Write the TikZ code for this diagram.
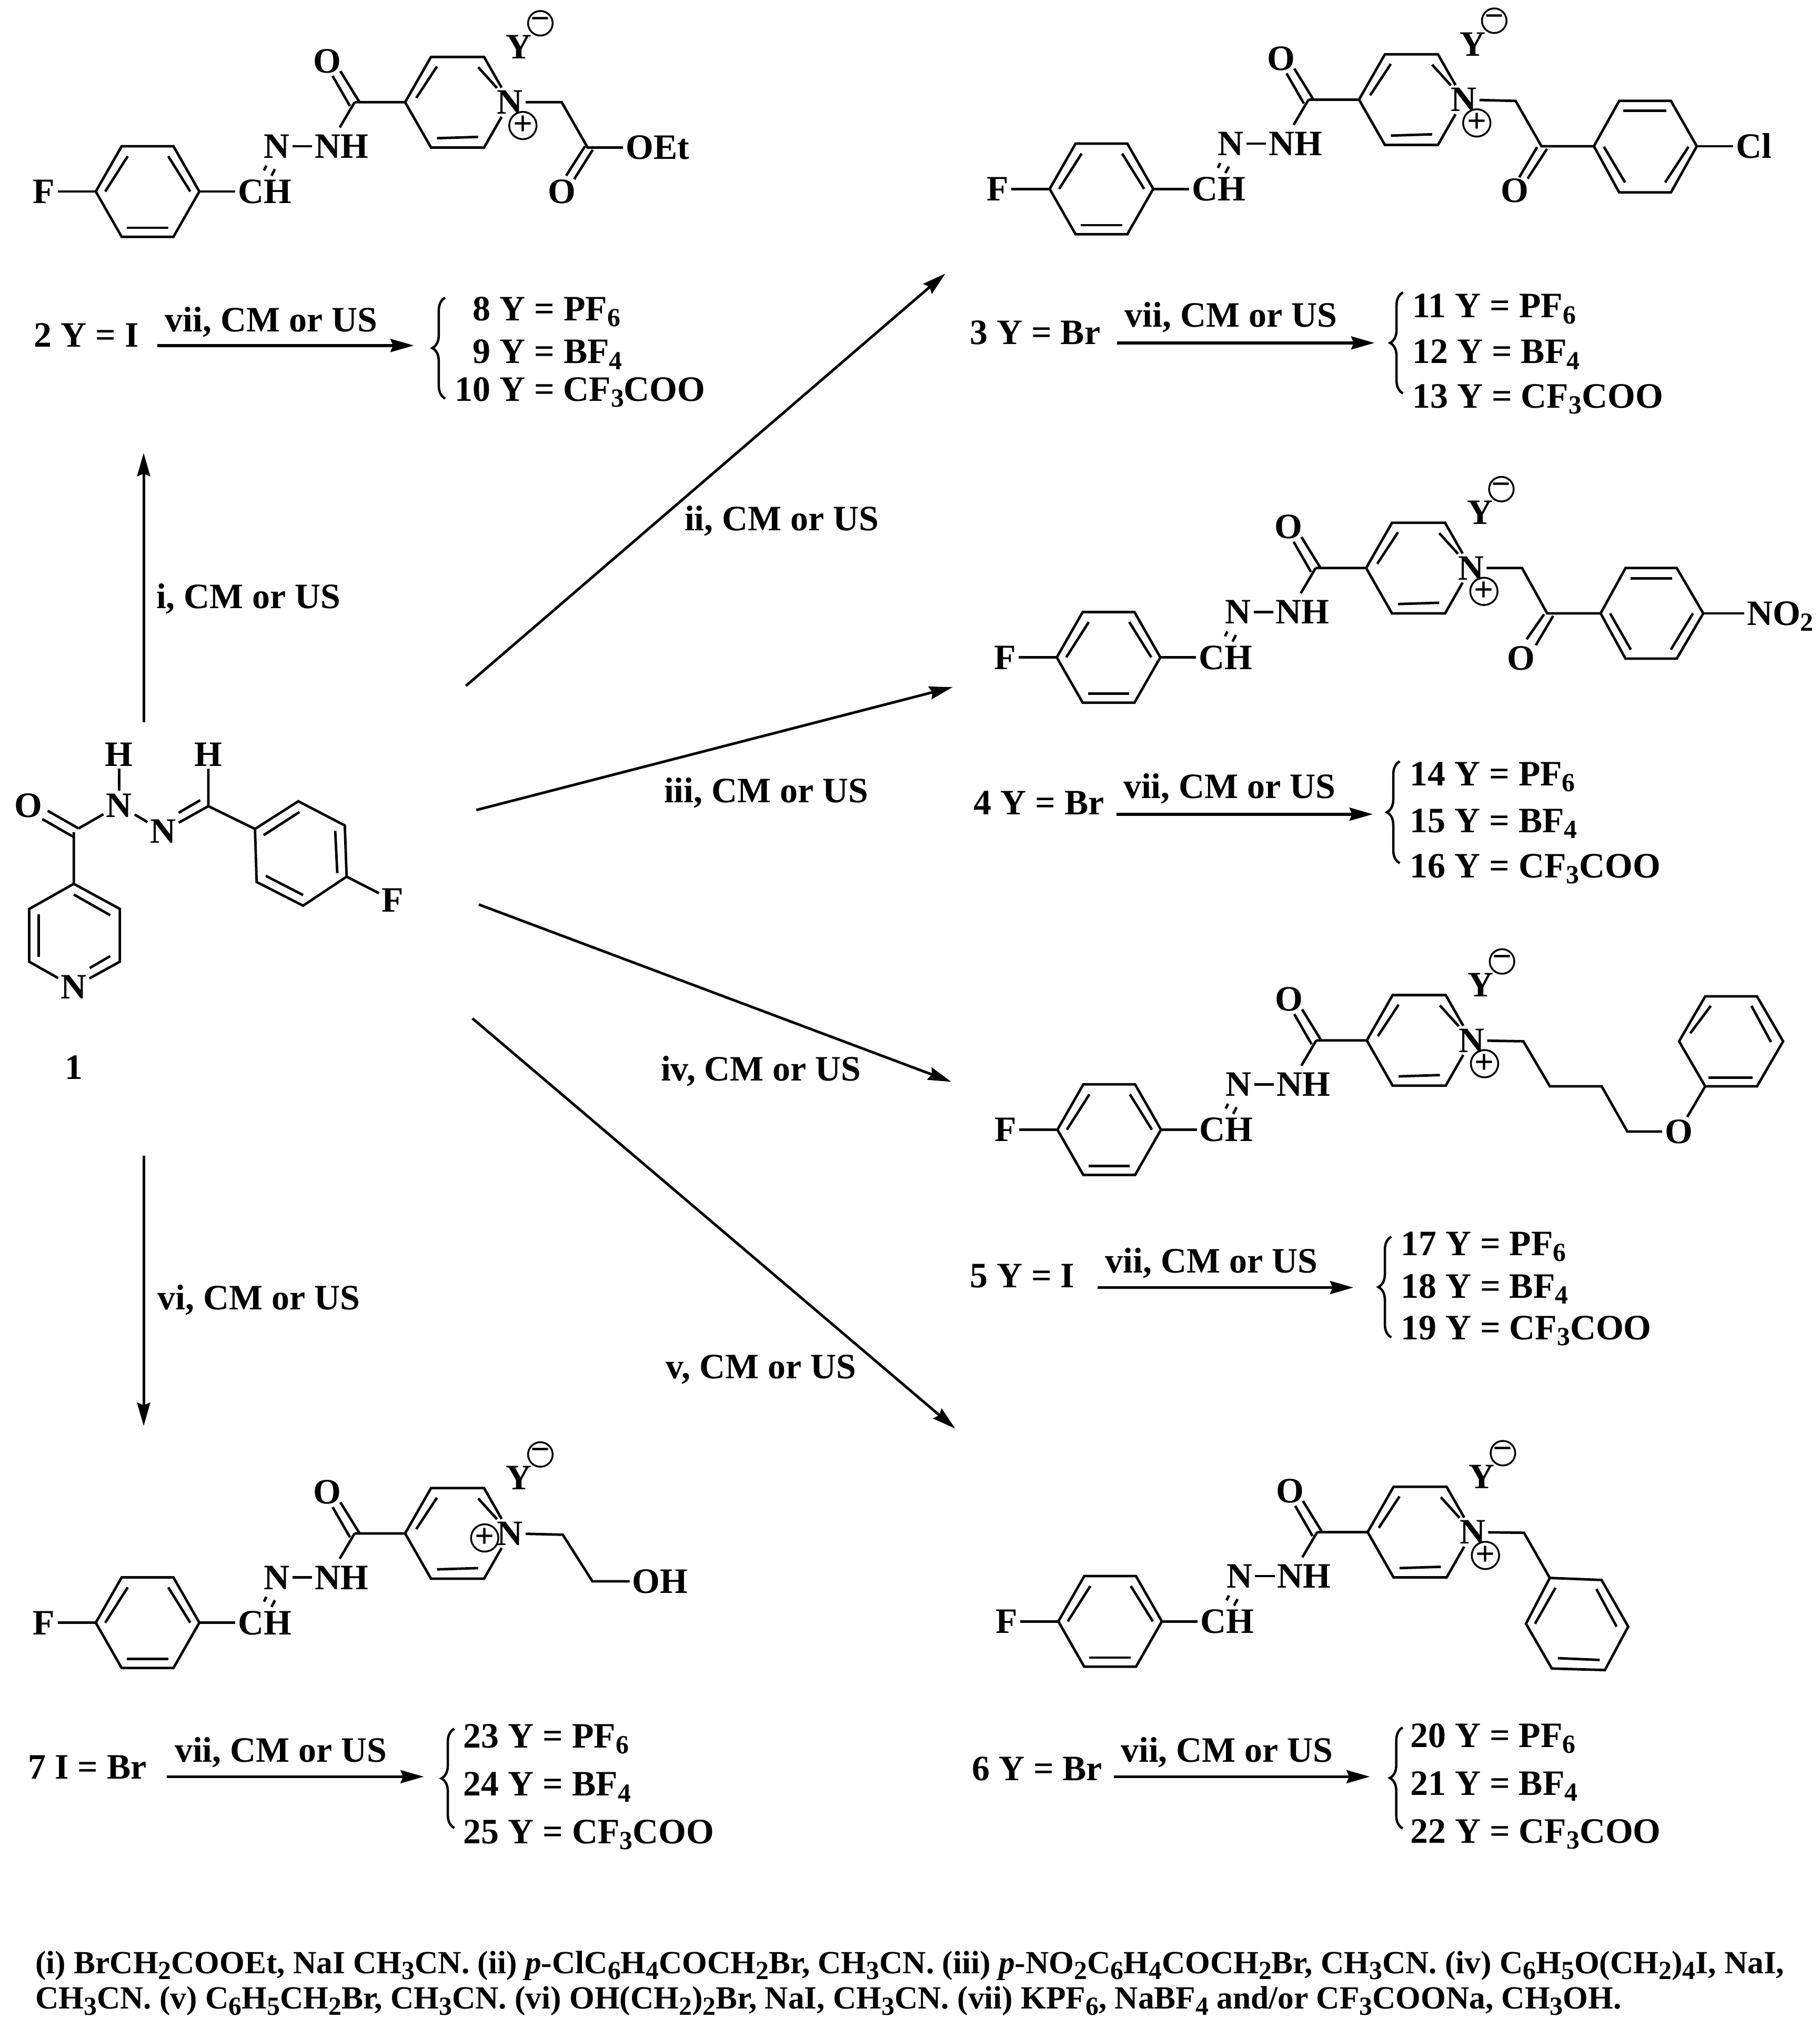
\documentclass[tikz,border=0pt]{standalone}
\usepackage{fontspec}
\setmainfont{Liberation Serif}
\usetikzlibrary{arrows.meta,decorations.pathreplacing}

\newcommand{\sbs}[1]{\raisebox{-2.6pt}{\fontsize{11.5}{12}\selectfont #1}}
\newcommand{\cmus}{, CM or US}

% the hydrazide part that all salts share (argument: place of the plus)
\newcommand{\hzcore}[1]{%
  % Ring with F
  \coordinate (a1) at (74,148);
  \coordinate (a2) at (94,113);
  \coordinate (a3) at (134,113);
  \coordinate (a4) at (154,148);
  \coordinate (a5) at (134,183);
  \coordinate (a6) at (94,183);
  \draw[bond] (a1) -- (a2) -- (a3) -- (a4) -- (a5) -- (a6) -- cycle;
  \draw[bond] (98.7,120.7) -- (81.3,148);
  \draw[bond] (130,120.7) -- (147,148);
  \draw[bond] (98,176) -- (130,176);
  \node[atom] (f) at (34,148) {F};
  \node[atom] (ch) at (204.5,148) {CH};
  \draw[bond] (f) -- (a1);
  \draw[bond] (a4) -- (ch);
  \draw[bond] (205.8,128) -- (204,131.7);
  \draw[bond] (212.4,130.7) -- (209.8,135.8);
  % Hydrazide
  \node[atom] (nb) at (214,113) {N};
  \node[atom] (nh) at (264,113) {NH};
  \draw[bond] (nb) -- (nh);
  \coordinate (co) at (274,79);
  \node[atom] (oo) at (253,47) {O};
  \draw[bond] (263,55) -- (277.7,78.8);
  \draw[bond] (257,58.7) -- (270.4,82);
  \draw[bond] (co) -- (262.5,98.5);
  % Pyridinium
  \coordinate (p1) at (313,79);
  \coordinate (p2) at (333,44);
  \coordinate (p3) at (374,44);
  \coordinate (p5) at (374,114);
  \coordinate (p6) at (333,114);
  \node[atom] (np) at (394,79) {N};
  \draw[bond] (co) -- (p1) -- (p2) -- (p3) -- (np);
  \draw[bond] (np) -- (p5) -- (p6) -- (p1);
  \draw[bond] (337.6,51.4) -- (321.6,75.7);
  \draw[bond] (369.5,52) -- (384,68);
  \draw[bond] (337.6,106.8) -- (369.5,105.8);
  \node[charge] (plus) at (#1) {+};
  \node[atom] (yy) at (401,36) {Y};
  \node[charge] (minus) at (417.5,18) {−};
}

\tikzset{
  bond/.style={line width=1.1pt},
  txt/.style={font=\fontsize{15.7}{18}\selectfont\bfseries, inner sep=0pt, text height=10.4pt, text depth=0pt},
  atom/.style={txt, inner sep=1pt},
  charge/.style={circle, draw, line width=.8pt, minimum size=.38cm, inner sep=0pt, font=\fontsize{15}{15}\selectfont\bfseries},
  rxn/.style={line width=1.15pt, -{Stealth[length=.36cm,width=.2cm,inset=.04cm]}},
  rxnsub/.style={rxn, line width=1.3pt},
  brc/.style={decorate, decoration={brace,amplitude=.2cm}, line width=1.05pt},
  lst/.style={txt, anchor=west},
  cond/.style={lst, font=\fontsize{14.2}{18}\selectfont\bfseries}
}

\begin{document}
\begin{tikzpicture}[x=.02cm, y=-.02cm]
  \useasboundingbox (0,0) rectangle (1406,1568);

  % Compound 1
  \node[atom] (h1) at (92,582.8) {H};
  \node[atom] (h2) at (161,582.8) {H};
  \node[atom] (n1) at (92,622.3) {N};
  \node[atom] (n2) at (126,642.5) {N};
  \node[atom] (o1) at (22,622.3) {O};
  \node[atom] (n3) at (57,762.7) {N};
  \node[atom] (f1) at (303.3,695.6) {F};
  \node[txt] (cmp1) at (57,825) {1};
  \coordinate (k1) at (57,643);
  \coordinate (k2) at (57,683);
  \coordinate (k3) at (92.6,702.4);
  \coordinate (k4) at (92.6,743.2);
  \coordinate (k5) at (22.6,743.2);
  \coordinate (k6) at (22.6,702.4);
  \coordinate (m1) at (161,623);
  \coordinate (r1) at (197,640.6);
  \coordinate (r2) at (230.5,619.2);
  \coordinate (r3) at (266.4,637.9);
  \coordinate (r4) at (267.8,677.5);
  \coordinate (r5) at (234.2,699.9);
  \coordinate (r6) at (198.3,681.6);
  \draw[bond] (k1) -- (k2) -- (k3) -- (k4) -- (n3) -- (k5) -- (k6) -- (k2);
  \draw[bond] (57,691.3) -- (85.2,707.3);
  \draw[bond] (29.9,706.7) -- (29.9,739.4);
  \draw[bond] (69.3,748.1) -- (85.2,738.8);
  \draw[bond] (32.7,633) -- (57.2,647);
  \draw[bond] (36.9,626.6) -- (60.7,640.2);
  \draw[bond] (60.7,640.2) -- (n1);
  \draw[bond] (h1) -- (n1);
  \draw[bond] (n1) -- (n2);
  \draw[bond] (n2) -- (m1);
  \draw[bond] (138,628.1) -- (154.7,618.4);
  \draw[bond] (h2) -- (m1) -- (r1);
  \draw[bond] (r1) -- (r2) -- (r3) -- (r4) -- (r5) -- (r6) -- cycle;
  \draw[bond] (203.7,645.4) -- (231.4,627.5);
  \draw[bond] (259,642.1) -- (260.6,674.8);
  \draw[bond] (205.3,676.8) -- (234.2,691.7);
  \draw[bond] (r4) -- (f1);

  % Main arrows
  \coordinate (s1) at (111,558);
  \coordinate (e1) at (111,350);
  \coordinate (s2) at (360,530);
  \coordinate (e2) at (730.4,211.4);
  \coordinate (s3) at (368,626);
  \coordinate (e3) at (736,531);
  \coordinate (s4) at (370,699);
  \coordinate (e4) at (735,836);
  \coordinate (s5) at (365,787);
  \coordinate (e5) at (738,1104);
  \coordinate (s6) at (111,893);
  \coordinate (e6) at (111,1102);
  \draw[rxn] (s1) -- (e1);
  \draw[rxn] (s2) -- (e2);
  \draw[rxn] (s3) -- (e3);
  \draw[rxn] (s4) -- (e4);
  \draw[rxn] (s5) -- (e5);
  \draw[rxn] (s6) -- (e6);
  \node[txt] (t1) at (192,461) {i\cmus};
  \node[txt] (t2) at (604,401) {ii\cmus};
  \node[txt] (t3) at (592,611) {iii\cmus};
  \node[txt] (t4) at (588,826) {iv\cmus};
  \node[txt] (t5) at (588,1056) {v\cmus};
  \node[txt] (t6) at (200,1003) {vi\cmus};

  % Compound 2
  \begin{scope}[name prefix=c2-]
    \hzcore{404,97}
  \end{scope}
  \coordinate (c2ch) at (434,79);
  \coordinate (c2co) at (454,114);
  \node[atom] (c2o) at (434,148) {O};
  \node[atom] (c2oet) at (508,114) {OEt};
  \draw[bond] (c2-np) -- (c2ch) -- (c2co) -- (c2oet);
  \draw[bond] (452,113) -- (437.4,135.8);
  \draw[bond] (458,115.7) -- (443.6,138.5);
  \node[lst] (l2) at (26,259) {2 Y = I};
  \coordinate (a2s) at (121.6,267);
  \coordinate (a2e) at (319.8,267);
  \draw[rxnsub] (a2s) -- (a2e);
  \node[txt] (v2) at (209.5,247) {vii\cmus};
  \draw[brc] (344,308) -- (344,230);
  \node[lst] (y8) at (365,238.5) {8 Y = PF\sbs{6}};
  \node[lst] (y9) at (365,271.7) {9 Y = BF\sbs{4}};
  \node[lst] (y10) at (351,300.7) {10 Y = CF\sbs{3}COO};

  % Compound 3
  \begin{scope}[shift={(737,-2)}, name prefix=c3-]
    \hzcore{404,97}
  \end{scope}
  \coordinate (c3ch) at (1171,78);
  \coordinate (c3co) at (1191,113);
  \node[atom] (c3o) at (1170.4,147) {O};
  \node[atom] (c3cl) at (1355,113) {Cl};
  \coordinate (c3r1) at (1231.5,113);
  \coordinate (c3r2) at (1251,78);
  \coordinate (c3r3) at (1291,78);
  \coordinate (c3r4) at (1311,113);
  \coordinate (c3r5) at (1291,148.7);
  \coordinate (c3r6) at (1251,148.7);
  \draw[bond] (c3-np) -- (c3ch) -- (c3co) -- (c3r1);
  \draw[bond] (c3r1) -- (c3r2) -- (c3r3) -- (c3r4) -- (c3r5) -- (c3r6) -- cycle;
  \draw[bond] (c3r4) -- (c3cl);
  \draw[bond] (1187.6,113.7) -- (1173.8,137);
  \draw[bond] (1195.3,115) -- (1180.3,138);
  \draw[bond] (1254.3,85.7) -- (1287.4,85.7);
  \draw[bond] (1239.2,113.4) -- (1255.6,141);
  \draw[bond] (1304.6,113.4) -- (1286.5,141);
  \node[lst] (l3) at (749,257) {3 Y = Br};
  \coordinate (a3s) at (863,265);
  \coordinate (a3e) at (1062,265);
  \draw[rxnsub] (a3s) -- (a3e);
  \node[txt] (v3) at (951,243.7) {vii\cmus};
  \draw[brc] (1084,304) -- (1084,226);
  \node[lst] (y11) at (1091,236.4) {11 Y = PF\sbs{6}};
  \node[lst] (y12) at (1091,271.7) {12 Y = BF\sbs{4}};
  \node[lst] (y13) at (1091,306) {13 Y = CF\sbs{3}COO};

  % Compound 4
  \begin{scope}[shift={(742.5,360)}, name prefix=c4-]
    \hzcore{404,97}
  \end{scope}
  \coordinate (c4ch) at (1176,439);
  \coordinate (c4co) at (1195.4,474);
  \node[atom] (c4o) at (1175.4,508.7) {O};
  \node[atom, anchor=west] (c4no) at (1347.6,474) {NO\sbs{2}};
  \coordinate (c4r1) at (1236.7,474);
  \coordinate (c4r2) at (1255.9,439);
  \coordinate (c4r3) at (1295.5,439);
  \coordinate (c4r4) at (1316,474);
  \coordinate (c4r5) at (1295.5,509);
  \coordinate (c4r6) at (1255.9,509);
  \draw[bond] (c4-np) -- (c4ch) -- (c4co) -- (c4r1);
  \draw[bond] (c4r1) -- (c4r2) -- (c4r3) -- (c4r4) -- (c4r5) -- (c4r6) -- cycle;
  \draw[bond] (c4r4) -- (c4no.west);
  \draw[bond] (1193,474.7) -- (1179.5,494);
  \draw[bond] (1200,476) -- (1186.6,498.6);
  \draw[bond] (1260,447) -- (1292,447);
  \draw[bond] (1244,474) -- (1260,502);
  \draw[bond] (1308,474) -- (1291,502);
  \node[lst] (l4) at (752,620.5) {4 Y = Br};
  \coordinate (a4s) at (862.5,629.2);
  \coordinate (a4e) at (1060.7,629.2);
  \draw[rxnsub] (a4s) -- (a4e);
  \node[txt] (v4) at (950,607.8) {vii\cmus};
  \draw[brc] (1081.5,667) -- (1081.5,588.4);
  \node[lst] (y14) at (1089,598) {14 Y = PF\sbs{6}};
  \node[lst] (y15) at (1089,634) {15 Y = BF\sbs{4}};
  \node[lst] (y16) at (1089,669) {16 Y = CF\sbs{3}COO};

  % Compound 5
  \begin{scope}[shift={(743,725)}, name prefix=c5-]
    \hzcore{404,97}
  \end{scope}
  \coordinate (c5a) at (1177,804.7);
  \coordinate (c5b) at (1197.5,839.5);
  \coordinate (c5c) at (1237.5,839.5);
  \coordinate (c5d) at (1257.3,874.4);
  \node[atom] (c5o) at (1297,874.4) {O};
  \coordinate (c5r1) at (1317.5,839.5);
  \coordinate (c5r2) at (1357.5,839.5);
  \coordinate (c5r3) at (1377.7,804.7);
  \coordinate (c5r4) at (1357.5,770);
  \coordinate (c5r5) at (1317.5,770);
  \coordinate (c5r6) at (1297.3,804.7);
  \draw[bond] (c5-np) -- (c5a) -- (c5b) -- (c5c) -- (c5d) -- (c5o);
  \draw[bond] (c5o) -- (c5r1);
  \draw[bond] (c5r1) -- (c5r2) -- (c5r3) -- (c5r4) -- (c5r5) -- (c5r6) -- cycle;
  \draw[bond] (1321.8,777.3) -- (1305.9,798.5);
  \draw[bond] (1353.2,777.3) -- (1368.3,805.3);
  \draw[bond] (1320,832.7) -- (1354,832.7);
  \node[lst] (l5) at (749,985.8) {5 Y = I};
  \coordinate (a5s) at (848,995);
  \coordinate (a5e) at (1045.7,995);
  \draw[rxnsub] (a5s) -- (a5e);
  \node[txt] (v5) at (936,974.4) {vii\cmus};
  \draw[brc] (1075,1033.5) -- (1075,955.7);
  \node[lst] (y17) at (1082,960.9) {17 Y = PF\sbs{6}};
  \node[lst] (y18) at (1082,994) {18 Y = BF\sbs{4}};
  \node[lst] (y19) at (1082,1026) {19 Y = CF\sbs{3}COO};

  % Compound 6
  \begin{scope}[shift={(743.7,1105)}, name prefix=c6-]
    \hzcore{404,97}
  \end{scope}
  \coordinate (c6ch) at (1177.5,1184.5);
  \coordinate (c6r1) at (1197.4,1219.4);
  \coordinate (c6r2) at (1237.4,1221);
  \coordinate (c6r3) at (1258,1257);
  \coordinate (c6r4) at (1240,1290.6);
  \coordinate (c6r5) at (1199,1289.4);
  \coordinate (c6r6) at (1179,1254.8);
  \draw[bond] (c6-np) -- (c6ch) -- (c6r1);
  \draw[bond] (c6r1) -- (c6r2) -- (c6r3) -- (c6r4) -- (c6r5) -- (c6r6) -- cycle;
  \draw[bond] (1201.8,1227) -- (1186,1254.8);
  \draw[bond] (1233.4,1228) -- (1249,1257);
  \draw[bond] (1203.6,1281.4) -- (1236,1282.8);
  \node[lst] (l6) at (750.6,1366.8) {6 Y = Br};
  \coordinate (a6s) at (860.6,1373);
  \coordinate (a6e) at (1058.4,1373);
  \draw[rxnsub] (a6s) -- (a6e);
  \node[txt] (v6) at (948,1352.5) {vii\cmus};
  \draw[brc] (1083.8,1413) -- (1083.8,1335);
  \node[lst] (y20) at (1089.3,1341) {20 Y = PF\sbs{6}};
  \node[lst] (y21) at (1089.3,1378) {21 Y = BF\sbs{4}};
  \node[lst] (y22) at (1089.3,1415) {22 Y = CF\sbs{3}COO};

  % Compound 7
  \begin{scope}[shift={(0,1106)}, name prefix=c7-]
    \hzcore{374.5,82.5}
  \end{scope}
  \coordinate (c7a) at (434.8,1186);
  \coordinate (c7b) at (457.7,1222);
  \node[atom] (c7oh) at (510,1222) {OH};
  \draw[bond] (c7-np) -- (c7a) -- (c7b) -- (c7oh);
  \node[lst] (l7) at (21.4,1365.5) {7 I = Br};
  \coordinate (a7s) at (129,1373);
  \coordinate (a7e) at (327.5,1373);
  \draw[rxnsub] (a7s) -- (a7e);
  \node[txt] (v7) at (217,1352.6) {vii\cmus};
  \draw[brc] (351,1412.6) -- (351,1336);
  \node[lst] (y23) at (357.8,1341.5) {23 Y = PF\sbs{6}};
  \node[lst] (y24) at (357.8,1378.7) {24 Y = BF\sbs{4}};
  \node[lst] (y25) at (357.8,1415.6) {25 Y = CF\sbs{3}COO};

  % Conditions
  \node[cond] (cond1) at (27,1516) {(i) BrCH\sbs{2}COOEt, NaI CH\sbs{3}CN. (ii) \textit{p}-ClC\sbs{6}H\sbs{4}COCH\sbs{2}Br, CH\sbs{3}CN. (iii) \textit{p}-NO\sbs{2}C\sbs{6}H\sbs{4}COCH\sbs{2}Br, CH\sbs{3}CN. (iv) C\sbs{6}H\sbs{5}O(CH\sbs{2})\sbs{4}I, NaI,};
  \node[cond] (cond2) at (27,1543.3) {CH\sbs{3}CN. (v) C\sbs{6}H\sbs{5}CH\sbs{2}Br, CH\sbs{3}CN. (vi) OH(CH\sbs{2})\sbs{2}Br, NaI, CH\sbs{3}CN. (vii) KPF\sbs{6}, NaBF\sbs{4} and/or CF\sbs{3}COONa, CH\sbs{3}OH.};
\end{tikzpicture}
\end{document}
